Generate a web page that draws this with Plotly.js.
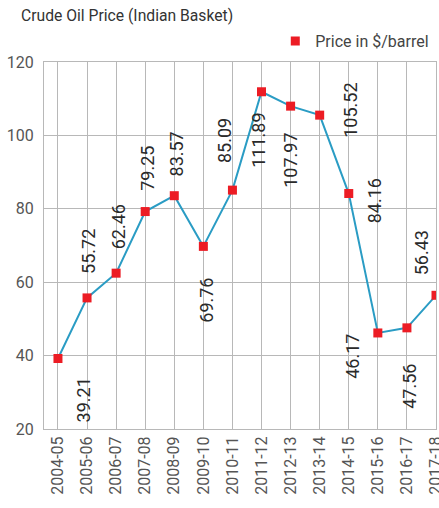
<!DOCTYPE html>
<html>
<head>
<meta charset="utf-8">
<script src="https://cdn.plot.ly/plotly-3.0.1.min.js"></script>
<style>html,body{margin:0;padding:0;background:#fff;}#chart{width:439px;height:508px;}</style>
</head>
<body>
<div id="chart"></div>
<script>
var years = ["2004-05","2005-06","2006-07","2007-08","2008-09","2009-10","2010-11","2011-12","2012-13","2013-14","2014-15","2015-16","2016-17","2017-18"];
var prices = [39.21,55.72,62.46,79.25,83.57,69.76,85.09,111.89,107.97,105.52,84.16,46.17,47.56,56.43];
var seriesName = "Price in $/barrel";
var chartTitle = "Crude Oil Price (Indian Basket)";

// label placement offsets (pixels) relative to each point
var labelDx = [26,2,2,2,2.5,3,-8.5,-2.5,0,30,26,-25,3,-15];
var labelDy = [-41,46,46,43,42,-54,50,-49,-54,5,-7,-23,-58,42];

var fontFam = "Roboto, 'Open Sans', sans-serif";
var gridCol = "#b8b8b8";
var markerCol = '#ec1c24';

var annotations = prices.map(function(v, i){
  return {
    x: years[i], y: v, xref: 'x', yref: 'y',
    text: v.toFixed(2), showarrow: false, textangle: -90,
    xshift: labelDx[i], yshift: labelDy[i],
    font: {family: fontFam, size: 18, color: '#2a2a2a'}
  };
});

var trace = {
  type: 'scatter', mode: 'lines+markers',
  x: years, y: prices, name: seriesName, showlegend: false,
  line: {color: '#2a9cc4', width: 2},
  marker: {symbol: 'square', size: 9, color: markerCol},
  cliponaxis: true
};
var legendTrace = {
  type: 'scatter', mode: 'markers', x: [null], y: [null], name: seriesName,
  marker: {symbol: 'square', size: 9, color: markerCol}, showlegend: true
};

var layout = {
  width: 439, height: 508,
  margin: {l: 44, r: 3, t: 62, b: 79},
  paper_bgcolor: '#fff', plot_bgcolor: '#fff',
  font: {family: fontFam, color: '#555'},
  title: {text: chartTitle, x: 21/439, xanchor: 'left', xref: 'container', y: 1 - 16/508, yanchor: 'middle', yref: 'container',
          font: {family: fontFam, size: 15.7, color: '#333'}},
  showlegend: true,
  legend: {x: 0.59, xanchor: 'left', y: 1.057, yanchor: 'middle', orientation: 'h', bgcolor: 'rgba(0,0,0,0)',
           font: {family: fontFam, size: 16, color: '#444'}},
  xaxis: {type: 'category', range: [-0.48, 13], showgrid: true, gridcolor: gridCol, gridwidth: 1,
          tickangle: -90, tickfont: {family: fontFam, size: 16, color: '#555'},
          showline: true, linecolor: gridCol, mirror: true, zeroline: false, ticks: '', fixedrange: true},
  yaxis: {range: [20, 120], dtick: 20, tick0: 20, showgrid: true, gridcolor: gridCol, gridwidth: 1,
          tickfont: {family: fontFam, size: 16, color: '#555'},
          showline: true, linecolor: gridCol, mirror: true, zeroline: false, ticks: '', ticklabelstandoff: 6},
  annotations: annotations
};

Plotly.newPlot('chart', [trace, legendTrace], layout, {displayModeBar: false, staticPlot: true});
</script>
</body>
</html>
